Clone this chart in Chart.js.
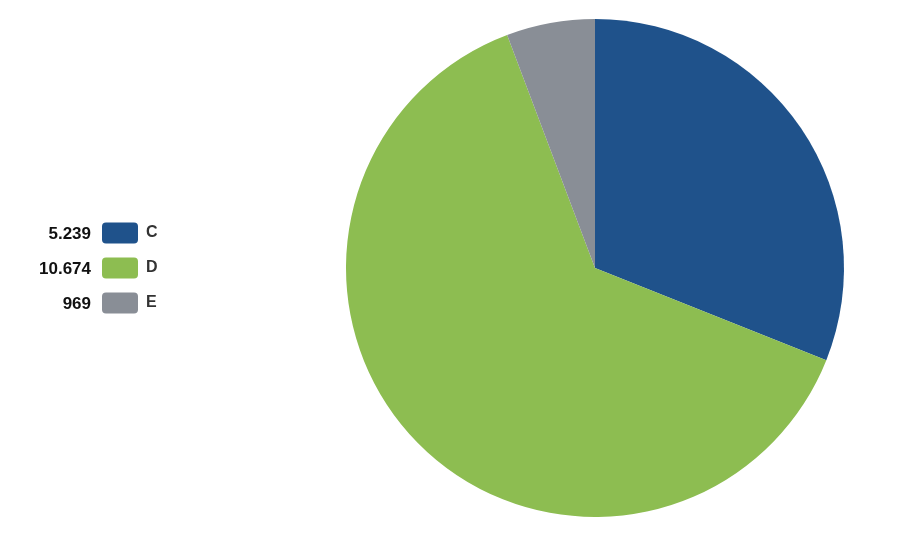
<!DOCTYPE html>
<html>
<head>
<meta charset="utf-8">
<script src="https://cdn.jsdelivr.net/npm/chart.js@4.4.0/dist/chart.umd.min.js"></script>
<style>
html,body{margin:0;padding:0;background:#fff;}
#wrap{width:899px;height:538px;position:relative;}
</style>
</head>
<body>
<div id="wrap"><canvas id="c"></canvas></div>
<script>
const categories = ["C", "D", "E"];
const values = [5239, 10674, 969];
const colors = ["#1F528B", "#8DBD51", "#898E96"];

function fmt(n){
  return String(n).replace(/\B(?=(\d{3})+(?!\d))/g, ".");
}

const legendPlugin = {
  id: 'sideLegend',
  afterDraw(chart){
    const ctx = chart.ctx;
    ctx.save();
    ctx.textBaseline = 'middle';
    const rowY0 = 233, rowGap = 35;
    categories.forEach((cat, i) => {
      const y = rowY0 + i * rowGap;
      ctx.font = "bold 17px 'Liberation Sans', Arial, sans-serif";
      ctx.fillStyle = '#111';
      ctx.textAlign = 'right';
      ctx.fillText(fmt(chart.data.datasets[0].data[i]), 91, y + 1);
      ctx.fillStyle = chart.data.datasets[0].backgroundColor[i];
      ctx.beginPath();
      if (ctx.roundRect) ctx.roundRect(102, y - 10.5, 36, 21, 4);
      else ctx.rect(102, y - 10.5, 36, 21);
      ctx.fill();
      ctx.font = "bold 16px 'Liberation Sans', Arial, sans-serif";
      ctx.fillStyle = '#333';
      ctx.textAlign = 'left';
      ctx.fillText(cat, 146, y);
    });
    ctx.restore();
  }
};

new Chart(document.getElementById('c'), {
  type: 'pie',
  data: {
    labels: categories,
    datasets: [{
      data: values,
      backgroundColor: colors,
      borderWidth: 0,
      hoverOffset: 0
    }]
  },
  options: {
    responsive: true,
    maintainAspectRatio: false,
    animation: false,
    layout: { padding: { left: 346, right: 55, top: 19, bottom: 21 } },
    plugins: {
      legend: { display: false },
      tooltip: { enabled: false }
    }
  },
  plugins: [legendPlugin]
});
</script>
</body>
</html>
